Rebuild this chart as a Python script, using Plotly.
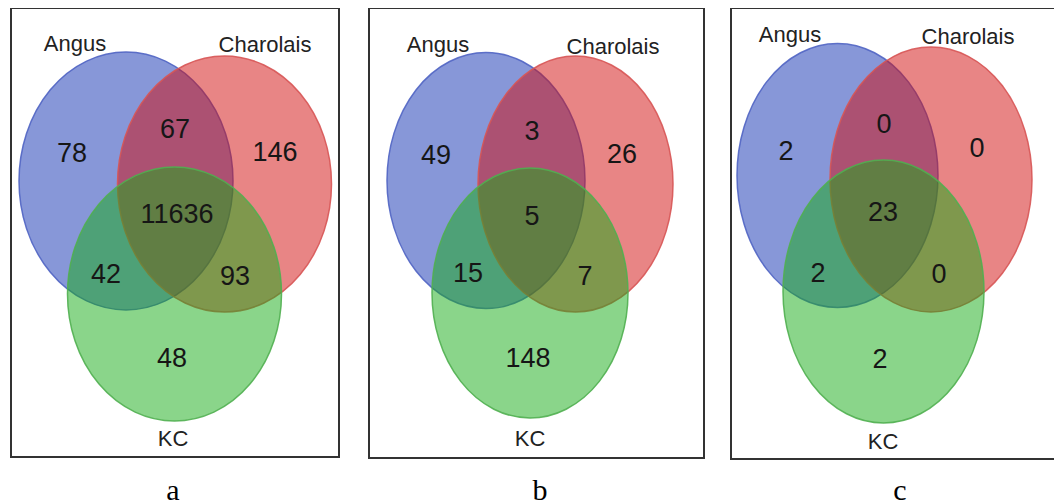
import plotly.graph_objects as go

# ---------------- data ----------------
set_names = ["Angus", "Charolais", "KC"]
panel_letters = ["a", "b", "c"]
# region order: Angus only, Angus∩Charolais, Charolais only, all three,
#               Angus∩KC, Charolais∩KC, KC only
counts_a = [78, 67, 146, 11636, 42, 93, 48]
counts_b = [49, 3, 26, 5, 15, 7, 148]
counts_c = [2, 0, 0, 23, 2, 0, 2]
panel_counts = [counts_a, counts_b, counts_c]

# ---------------- geometry (page pixel layout) ----------------
PAGE_W, PAGE_H = 1062, 504
OFF = 8  # default body margin of the html page
boxes = [(11, 8, 339, 457), (369, 8, 704, 458), (731, 8, 1061, 459)]
circles = [
    [(126, 181, 107, 129), (224.5, 184, 107, 128), (174.5, 294, 107, 127)],
    [(486, 180.5, 99, 128), (575.5, 184, 97.5, 128), (530, 293, 98, 125)],
    [(837.5, 175.5, 100.5, 132), (931, 179.5, 101, 132.5), (883.5, 291.5, 100.5, 131.5)],
]
name_pos = [
    [(75, 42), (265, 43), (173, 437)],
    [(438, 43), (613, 45), (530, 437)],
    [(790, 33), (968, 35), (883, 440)],
]
count_pos = [
    [(72, 152), (175, 128), (275, 151), (177, 213), (106, 273), (235, 275), (172, 357)],
    [(436, 154), (532, 130), (622, 153), (532, 215), (468, 272), (585, 275), (528, 357)],
    [(786, 150), (884, 123), (977, 147), (883, 211), (818, 272), (939, 273), (880, 358)],
]
letter_pos = [(173, 492), (540, 492), (900, 492)]
TEXT_DY = 3  # shift so glyphs sit visually centred

fills = ["rgba(15,47,177,0.5)", "rgba(209,11,11,0.5)", "rgba(21,171,21,0.5)"]
edges = ["rgba(80,100,195,0.9)", "rgba(215,85,85,0.9)", "rgba(80,175,80,0.9)"]

SANS = "Liberation Sans Narrow, Arial Narrow, Liberation Sans, Arial, sans-serif"

fig = go.Figure()
shapes = []
for p in range(3):
    x0, y0, x1, y1 = boxes[p]
    shapes.append(dict(type="rect", xref="x", yref="y", x0=x0, y0=y0, x1=x1, y1=y1,
                       line=dict(color="#333333", width=2), fillcolor="rgba(0,0,0,0)",
                       layer="below"))
    for k, (cx, cy, rx, ry) in enumerate(circles[p]):
        shapes.append(dict(type="circle", xref="x", yref="y",
                           x0=cx - rx, x1=cx + rx, y0=cy - ry, y1=cy + ry,
                           fillcolor=fills[k], line=dict(color=edges[k], width=1.5),
                           layer="below"))
    fig.add_trace(go.Scatter(
        x=[q[0] for q in name_pos[p]], y=[q[1] + TEXT_DY for q in name_pos[p]],
        text=set_names, mode="text", textposition="middle center",
        textfont=dict(family=SANS, size=22, color="#222222"),
        hoverinfo="skip", showlegend=False, cliponaxis=False))
    fig.add_trace(go.Scatter(
        x=[q[0] for q in count_pos[p]], y=[q[1] + TEXT_DY for q in count_pos[p]],
        text=[str(v) for v in panel_counts[p]], mode="text", textposition="middle center",
        textfont=dict(family=SANS, size=27, color="#161616"),
        hoverinfo="skip", showlegend=False, cliponaxis=False))

fig.add_trace(go.Scatter(
    x=[q[0] for q in letter_pos], y=[q[1] for q in letter_pos],
    text=panel_letters, mode="text", textposition="middle center",
    textfont=dict(family="Liberation Serif, Times New Roman, serif", size=30, color="#000000"),
    hoverinfo="skip", showlegend=False, cliponaxis=False))

fig.update_layout(
    width=PAGE_W - OFF, height=PAGE_H - OFF, margin=dict(l=0, r=0, t=0, b=0),
    paper_bgcolor="white", plot_bgcolor="white",
    shapes=shapes, showlegend=False,
    xaxis=dict(range=[OFF, PAGE_W], visible=False, fixedrange=True),
    yaxis=dict(range=[PAGE_H, OFF], visible=False, fixedrange=True),
)
fig.write_html("out.html")
